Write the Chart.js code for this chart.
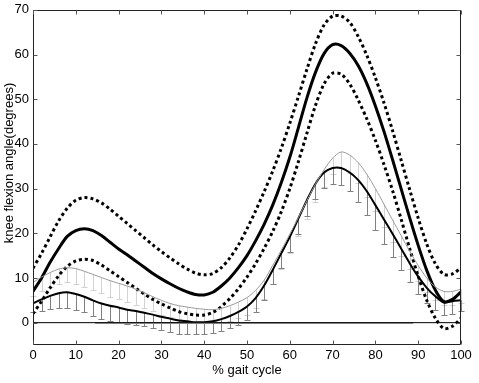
<!DOCTYPE html>
<html>
<head>
<meta charset="utf-8">
<script src="https://cdn.jsdelivr.net/npm/chart.js@4.4.1/dist/chart.umd.min.js"></script>
<style>
  html, body { margin: 0; padding: 0; background: #fff; }
  #wrap { width: 479px; height: 383px; position: relative; }
</style>
</head>
<body>
<div id="wrap"><canvas id="c" width="479" height="383"></canvas></div>
<script>
// ---- data ----
const gaitPct = [0,2,4,6,8,10,12,14,16,18,20,22,24,26,28,30,32,34,36,38,40,42,44,46,48,50,52,54,56,58,60,62,64,66,68,70,72,74,76,78,80,82,84,86,88,90,92,94,96,98,100];

const normalMean = [7.0,10.0,13.5,16.6,19.3,20.6,21.0,20.6,19.5,18.0,16.5,15.2,13.8,12.4,11.0,9.8,8.7,7.7,6.9,6.3,6.2,6.8,8.2,10.0,12.3,15.0,18.3,22.0,26.3,31.3,37.0,43.6,50.3,56.0,60.2,62.2,62.0,60.3,57.5,53.5,48.5,42.8,36.5,30.0,23.5,17.3,11.7,7.3,4.7,5.2,6.9];
const normalUpper = [12.2,15.5,19.2,22.8,25.6,27.4,28.0,27.7,26.8,25.4,23.8,22.2,20.6,19.0,17.4,15.9,14.5,13.2,12.0,11.1,10.7,11.0,12.3,14.5,17.4,21.0,25.0,29.3,33.9,39.0,44.6,50.6,56.7,62.4,66.6,68.6,68.6,67.2,64.0,59.8,54.8,49.2,43.0,36.4,29.8,23.4,17.6,13.2,10.8,10.9,12.3];
const normalLower = [2.0,4.8,7.8,10.5,12.6,13.8,14.2,13.9,12.9,11.6,10.3,9.0,7.7,6.4,5.2,4.2,3.3,2.5,2.0,1.7,1.7,2.3,3.6,5.4,7.6,10.2,13.2,16.6,20.4,24.8,30.0,36.0,42.4,48.6,53.4,55.8,55.6,53.4,49.8,45.6,40.8,35.4,29.6,23.2,16.6,10.4,5.0,1.0,-1.3,-0.8,1.0];

const groupAMean = [4.3,5.2,6.0,6.6,6.8,6.4,5.8,5.0,4.3,3.8,3.4,2.9,2.6,2.2,1.8,1.3,0.9,0.5,0.3,0.1,0.1,0.3,0.8,1.5,2.4,3.6,5.5,8.3,11.8,15.5,19.2,23.3,27.4,31.1,33.6,34.6,34.6,33.6,31.9,29.4,26.3,23.1,19.9,16.6,13.3,10.3,7.8,5.9,4.5,4.8,5.0];
const groupASD = [2.0,2.5,3.0,3.3,3.5,3.5,3.5,3.5,3.5,3.4,3.3,3.2,3.1,3.0,3.0,3.0,3.0,3.0,2.8,2.7,2.6,2.6,2.7,2.8,3.0,3.0,3.2,3.2,3.2,3.3,3.4,3.5,3.5,3.5,3.5,3.5,3.7,4.2,4.8,5.2,5.5,5.5,5.2,4.8,4.2,3.8,3.4,3.0,2.8,2.8,2.5];

const groupBMean = [9.0,10.2,11.2,12.0,12.3,12.1,11.5,10.8,10.1,9.4,8.8,8.2,7.5,6.7,5.8,5.0,4.3,3.8,3.5,3.2,3.0,2.9,3.2,3.8,4.6,5.6,7.2,9.5,12.8,16.2,19.8,23.5,27.3,31.0,34.2,36.8,38.2,37.5,35.8,33.2,30.0,26.5,23.0,19.5,16.0,12.8,10.0,8.0,7.0,7.0,7.5];
const groupBSD = [3.0,3.2,3.3,3.4,3.2,3.5,3.5,3.5,3.5,3.6,3.6,3.5,3.5,3.4,3.3,3.2,3.0,3.0,3.0,3.0,3.0,3.0,3.2,3.4,3.6,3.8,4.0,4.2,4.2,4.2,4.2,4.2,4.0,4.0,3.8,3.6,3.5,4.0,4.5,5.0,5.0,5.0,5.0,4.5,4.0,3.5,3.2,3.0,3.0,3.0,3.0];

const zeroLineX = [0, 100];
const zeroLineY = [0, 0];
const grayZeroX = [14.5, 88.8];
const grayZeroY = [-0.05, -0.05];

const xTicks = [0,10,20,30,40,50,60,70,80,90,100];
const yTicks = [0,10,20,30,40,50,60,70];
const xTitle = '% gait cycle';
const yTitle = 'knee flexion angle(degrees)';

// ---- helpers ----
const pts = (xs, ys) => xs.map((x, i) => ({x: x, y: ys[i]}));
const FONT = "'Liberation Sans', Arial, Helvetica, sans-serif";

const errorBarPlugin = {
  id: 'errorBars',
  beforeDatasetsDraw(chart) {
    const {ctx, scales: {x, y}} = chart;
    const cap = 3;
    const drawSet = (means, sds, color) => {
      ctx.save();
      ctx.strokeStyle = color;
      ctx.lineWidth = 1;
      ctx.beginPath();
      gaitPct.forEach((g, i) => {
        const px = Math.round(x.getPixelForValue(g)) + 0.5;
        const y0 = y.getPixelForValue(means[i]);
        const y1 = Math.round(y.getPixelForValue(means[i] - sds[i])) + 0.5;
        ctx.moveTo(px, y0);
        ctx.lineTo(px, y1);
        ctx.moveTo(px - cap, y1);
        ctx.lineTo(px + cap, y1);
      });
      ctx.stroke();
      ctx.restore();
    };
    drawSet(groupBMean, groupBSD, '#d2d2d2');
    drawSet(groupAMean, groupASD, '#808080');
  }
};

const framePlugin = {
  id: 'frame',
  afterDatasetsDraw(chart) {
    const {ctx, chartArea: a, scales: {x, y}} = chart;
    ctx.save();
    ctx.strokeStyle = '#222';
    ctx.lineWidth = 1;
    ctx.beginPath();
    const L = Math.round(a.left) + 0.5, R = Math.round(a.right) - 0.5;
    const T = Math.round(a.top) + 0.5, B = Math.round(a.bottom) - 0.5;
    ctx.rect(L, T, R - L, B - T);
    ctx.stroke();
    ctx.strokeStyle = '#555';
    ctx.beginPath();
    const tl = 4;
    xTicks.forEach(v => {
      const px = Math.round(x.getPixelForValue(v)) + 0.5;
      ctx.moveTo(px, B); ctx.lineTo(px, B - tl);
      ctx.moveTo(px, T); ctx.lineTo(px, T + tl);
    });
    yTicks.forEach(v => {
      const py = Math.round(y.getPixelForValue(v)) + 0.5;
      ctx.moveTo(L, py); ctx.lineTo(L + tl, py);
      ctx.moveTo(R, py); ctx.lineTo(R - tl, py);
    });
    ctx.stroke();
    // y axis title
    ctx.fillStyle = '#000';
    ctx.font = '13px ' + FONT;
    ctx.textAlign = 'center';
    ctx.textBaseline = 'middle';
    ctx.translate(9, 163);
    ctx.rotate(-Math.PI / 2);
    ctx.fillText(yTitle, 0, 0);
    ctx.restore();
  }
};

const lineDs = (data, color, width, extra) => Object.assign({
  data: data, borderColor: color, borderWidth: width, pointRadius: 0,
  fill: false, tension: 0.3, backgroundColor: color
}, extra || {});

new Chart(document.getElementById('c'), {
  type: 'line',
  data: {
    datasets: [
      lineDs(pts(zeroLineX, zeroLineY), '#000', 1, {tension: 0}),
      lineDs(pts(grayZeroX, grayZeroY), '#9a9a9a', 2, {tension: 0}),
      lineDs(pts(gaitPct, groupBMean), '#9a9a9a', 1),
      lineDs(pts(gaitPct, groupAMean), '#000', 2),
      lineDs(pts(gaitPct, normalUpper), '#000', 3, {borderDash: [3, 3]}),
      lineDs(pts(gaitPct, normalLower), '#000', 3, {borderDash: [3, 3]}),
      lineDs(pts(gaitPct, normalMean), '#000', 3)
    ]
  },
  options: {
    responsive: false,
    animation: false,
    events: [],
    layout: { padding: { top: 6, right: 18, left: 0, bottom: 0 } },
    plugins: { legend: { display: false }, tooltip: { enabled: false } },
    scales: {
      x: {
        type: 'linear', min: 0, max: 100,
        afterBuildTicks: s => { s.ticks = xTicks.map(v => ({value: v})); },
        afterFit: s => { s.height = 38; },
        grid: { display: false, drawTicks: false },
        border: { display: false },
        ticks: { color: '#000', padding: 5, maxRotation: 0, autoSkip: false,
                 font: { family: FONT, size: 13, lineHeight: 0.9 } },
        title: { display: true, text: xTitle, color: '#000',
                 font: { family: FONT, size: 13, lineHeight: 1.2 },
                 padding: { top: 0, bottom: 5 } }
      },
      y: {
        type: 'linear', min: -5, max: 70,
        afterBuildTicks: s => { s.ticks = yTicks.map(v => ({value: v})); },
        afterFit: s => { s.width = 33; },
        grid: { display: false, drawTicks: false },
        border: { display: false },
        ticks: { color: '#000', padding: 4, autoSkip: false,
                 font: { family: FONT, size: 13, lineHeight: 0.9 } }
      }
    }
  },
  plugins: [errorBarPlugin, framePlugin]
});
</script>
</body>
</html>
